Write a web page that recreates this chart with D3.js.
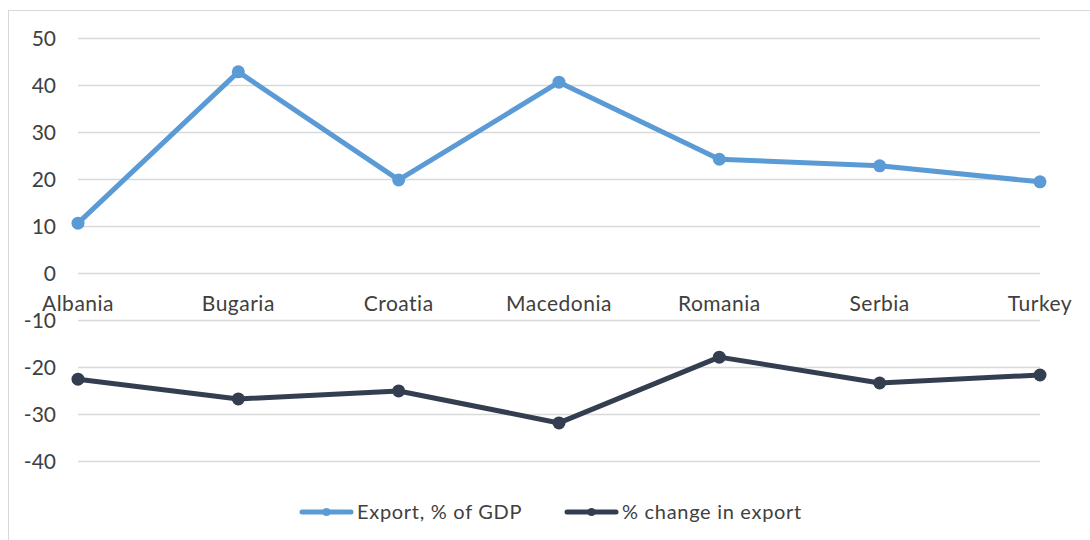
<!DOCTYPE html>
<html><head><meta charset="utf-8">
<script src="https://cdn.jsdelivr.net/npm/d3@7"></script>
<style>body{margin:0;background:#fff}svg{display:block}</style>
</head><body>
<svg id="c" width="1090" height="540"></svg>
<script>
const categories = ["Albania","Bugaria","Croatia","Macedonia","Romania","Serbia","Turkey"];
const exportGDP = [10.6, 42.8, 19.8, 40.6, 24.2, 22.8, 19.4];
const changeExport = [-22.6, -26.8, -25.1, -31.9, -17.9, -23.4, -21.7];
const yTicks = [-40,-30,-20,-10,0,10,20,30,40,50];
const seriesNames = ["Export, % of GDP","% change in export"];
const colors = ["#5B9BD5","#333F50"];

const svg = d3.select("#c");
const font = "Lato, 'Open Sans', sans-serif";
svg.append("rect").attr("x",8.5).attr("y",10.5).attr("width",1100).attr("height",560)
  .attr("fill","#fff").attr("stroke","#d9d9d9");

const x = d3.scalePoint().domain(categories).range([78,1040]);
const y = d3.scaleLinear().domain([-40,50]).range([461,38]);

const g = svg.append("g");
g.selectAll("line.grid").data(yTicks).join("line")
  .attr("x1",78).attr("x2",1040).attr("y1",d=>Math.round(y(d))+0.5).attr("y2",d=>Math.round(y(d))+0.5)
  .attr("stroke","#d9d9d9").attr("stroke-width",1.3);

g.selectAll("text.yt").data(yTicks).join("text")
  .attr("x",56).attr("y",d=>y(d)).attr("dy","0.36em").attr("text-anchor","end")
  .attr("font-family",font).attr("font-size",21).attr("fill","#404040").text(d=>d);

g.selectAll("text.xt").data(categories).join("text")
  .attr("x",d=>x(d)).attr("y",311).attr("text-anchor","middle")
  .attr("font-family",font).attr("font-size",21).attr("letter-spacing",0.5).attr("fill","#404040").text(d=>d);

const series = [exportGDP, changeExport];
const line = d3.line().x((d,i)=>x(categories[i])).y(d=>y(d));
series.forEach((s,k)=>{
  g.append("path").attr("d",line(s)).attr("fill","none").attr("stroke",colors[k])
    .attr("stroke-width",5).attr("stroke-linejoin","round").attr("stroke-linecap","round");
  g.selectAll(null).data(s).join("circle").attr("cx",(d,i)=>x(categories[i])).attr("cy",d=>y(d))
    .attr("r",6.5).attr("fill",colors[k]);
});

const legX = [300, 565];
seriesNames.forEach((n,k)=>{
  const lg = svg.append("g");
  lg.append("line").attr("x1",legX[k]+2).attr("x2",legX[k]+51).attr("y1",512).attr("y2",512)
    .attr("stroke",colors[k]).attr("stroke-width",5).attr("stroke-linecap","round");
  lg.append("circle").attr("cx",legX[k]+26.5).attr("cy",512).attr("r",4).attr("fill",colors[k]);
  lg.append("text").attr("x",legX[k]+57).attr("y",512).attr("dy","0.36em")
    .attr("font-family",font).attr("font-size",20).attr("letter-spacing",0.7).attr("fill","#404040").text(n);
});
</script>
</body></html>
